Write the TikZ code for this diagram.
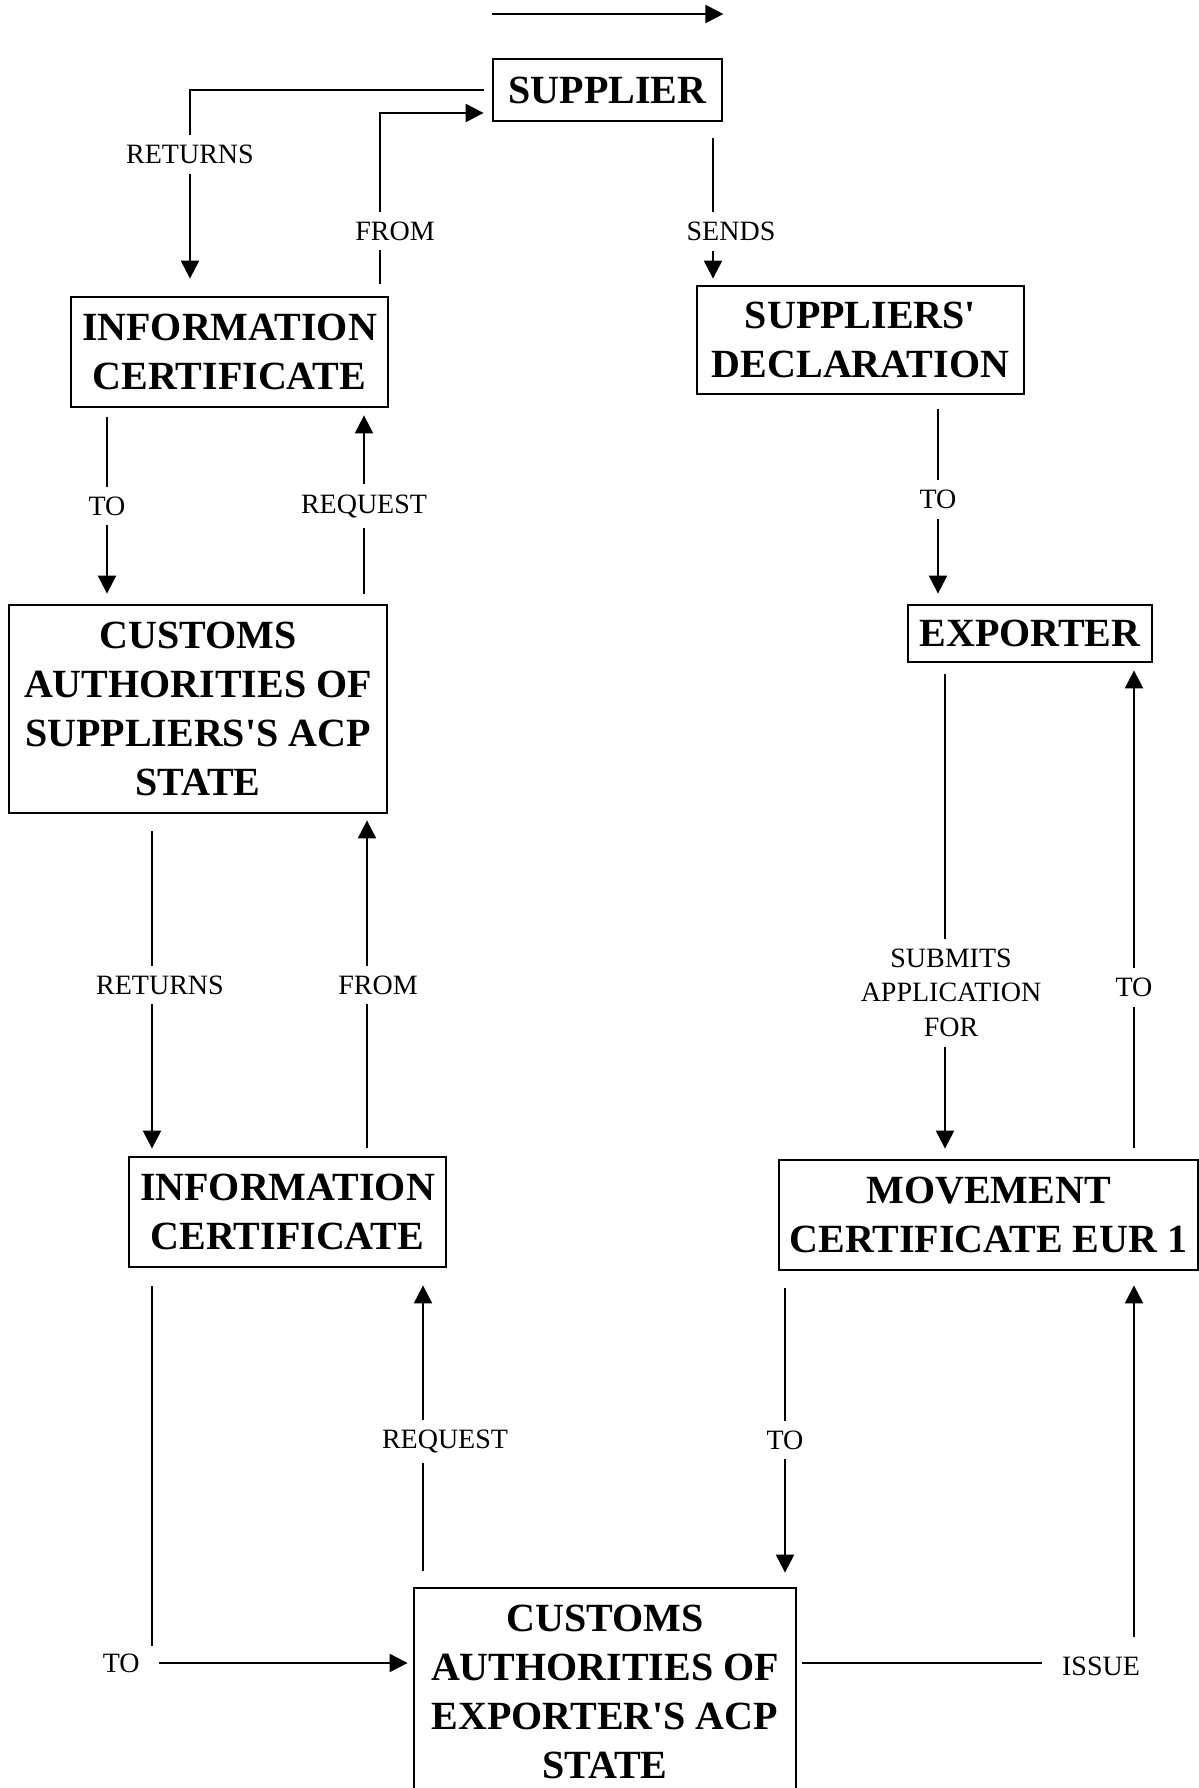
\documentclass[tikz,border=0pt]{standalone}
\usepackage{fontspec}
\setmainfont{Liberation Serif}
\usetikzlibrary{arrows.meta, positioning}

\begin{document}
\begin{tikzpicture}[x=0.5pt, y=-0.5pt, >={Triangle[length=9pt, width=9pt]},
  box/.style={rectangle, draw, line width=1.4pt, align=center, inner sep=0pt, font=\fontsize{20}{24.4}\selectfont\bfseries},
  lbl/.style={fill=white, align=center, inner xsep=2pt, inner ysep=5pt, font=\fontsize{14}{17.4}\selectfont},
  link/.style={line width=1.1pt, shorten <=5pt, shorten >=5pt}]

\useasboundingbox (0,0) rectangle (1199,1788);

% Boxes
\node[box, minimum width=114.5pt, minimum height=31pt] (sup) at (607.5,90) {SUPPLIER};
\node[box, minimum width=158.5pt, minimum height=55pt] (ic1) at (229.5,352) {INFORMATION\\CERTIFICATE};
\node[box, minimum width=163.5pt, minimum height=54pt] (sd) at (860.5,340) {SUPPLIERS\textquotesingle\\DECLARATION};
\node[box, minimum width=189pt, minimum height=104pt] (ca1) at (198,709) {CUSTOMS\\AUTHORITIES OF\\SUPPLIERS\textquotesingle S ACP\\STATE};
\node[box, minimum width=122pt, minimum height=28.5pt] (exp) at (1030,633.5) {EXPORTER};
\node[box, minimum width=158.5pt, minimum height=55pt] (ic2) at (287.5,1212) {INFORMATION\\CERTIFICATE};
\node[box, minimum width=209.5pt, minimum height=55pt] (mc) at (988.5,1215) {MOVEMENT\\CERTIFICATE EUR 1};
\node[box, minimum width=191pt, minimum height=104pt] (ca2) at (605,1692) {CUSTOMS\\AUTHORITIES OF\\EXPORTER\textquotesingle S ACP\\STATE};

% Legend arrow
\coordinate (lg) at (0,14);
\draw[->, line width=1.1pt] (sup.west |- lg) -- (sup.east |- lg);

% Supplier side
\draw[link, ->, shorten <=4pt, shorten >=8.5pt] (sup.west) -| node[lbl, pos=0.657] (l1) {RETURNS} (ic1.north -| 190,0);
\draw[link, ->, shorten <=6pt, shorten >=4pt] (ic1.north -| 380,0) |- node[lbl, pos=0.177, xshift=7.5pt] (l2) {FROM} (sup.west |- 0,113);
\draw[link, ->, shorten <=8pt, shorten >=3pt] (sup.south -| 713,0) -- node[lbl, pos=0.673, xshift=9pt] (l3) {SENDS} (sd.north -| 713,0);
\draw[link, ->, shorten <=4.5pt] (ic1.south -| 107,0) -- node[lbl] (l4) {TO} (ca1.north -| 107,0);
\draw[link, ->, shorten >=3.5pt] (ca1.north -| 364,0) -- node[lbl] (l5) {REQUEST} (ic1.south -| 364,0);
\draw[link, ->, shorten <=8.5pt, shorten >=3.5pt] (ca1.south -| 152,0) -- node[lbl, xshift=4pt] (l6) {RETURNS} (ic2.north -| 152,0);
\draw[link, ->, shorten <=4pt, shorten >=3pt] (ic2.north -| 367,0) -- node[lbl, xshift=5.5pt] (l7) {FROM} (ca1.south -| 367,0);

% Exporter side
\draw[link, ->, shorten <=7pt] (sd.south -| 938,0) -- node[lbl] (l8) {TO} (exp.north -| 938,0);
\draw[link, ->, shorten <=5.5pt] (exp.south -| 945,0) -- node[lbl, pos=0.665, xshift=3pt] (l9) {SUBMITS\\APPLICATION\\FOR} (mc.north -| 945,0);
\draw[link, ->, shorten <=5.5pt, shorten >=3.5pt] (mc.north -| 1134,0) -- node[lbl, pos=0.345] (l10) {TO} (exp.south -| 1134,0);

% Customs of exporter
\draw[link, ->, shorten <=8pt, shorten >=8.5pt] (ca2.north -| 423,0) -- node[lbl, pos=0.455, xshift=11pt] (l11) {REQUEST} (ic2.south -| 423,0);
\draw[link, ->, shorten <=8.5pt, shorten >=7pt] (mc.south -| 785,0) -- node[lbl, pos=0.535] (l12) {TO} (ca2.north -| 785,0);

\coordinate (k1) at (152,1663);
\node[lbl, left=4pt of k1] (l13) {TO};
\draw[link, shorten <=9pt, shorten >=8.5pt] (ic2.south -| k1) -- (k1);
\draw[link, ->, shorten <=3.5pt, shorten >=2.5pt] (k1) -- (ca2.west |- k1);

\coordinate (k2) at (1134,1663);
\node[lbl] (l14) at (1101,1666) {ISSUE};
\draw[link, shorten <=2.5pt, shorten >=8pt] (ca2.east |- k2) -- (l14.west |- k2);
\draw[link, ->, shorten <=4.5pt, shorten >=7pt] (l14.north -| k2) -- (mc.south -| k2);

\end{tikzpicture}
\end{document}
